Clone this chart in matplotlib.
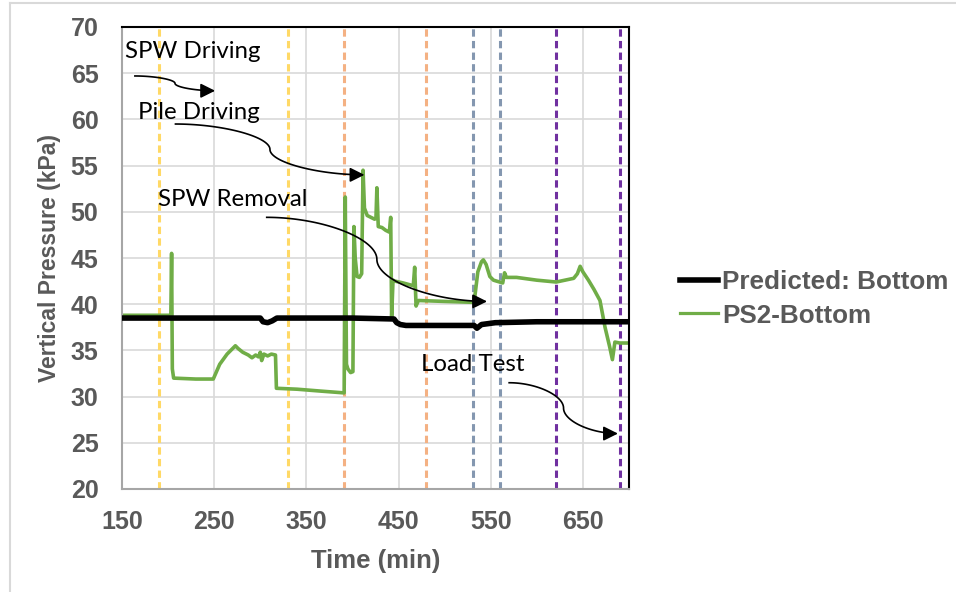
import numpy as np
import matplotlib.pyplot as plt
from matplotlib.lines import Line2D

# predicted vertical pressure (bottom)
pred_t = [150, 300, 303, 308, 313, 318, 330, 400, 445, 448, 452, 458, 500, 532, 535, 540, 555, 600, 650, 700]
pred_p = [38.5, 38.5, 38.1, 38.0, 38.2, 38.5, 38.5, 38.5, 38.4, 38.0, 37.8, 37.7, 37.7, 37.7, 37.4, 37.8, 38.0, 38.1, 38.1, 38.1]

# measured PS2-Bottom
ps2_t = [150, 203, 203.8, 204.6, 206, 230, 249, 256, 264, 273, 276, 281, 287, 291, 295, 298,
         300, 301.5, 304, 308, 312, 316.5, 317.5, 340, 365, 391, 392.2, 393.5, 395, 398, 400.5,
         401.6, 403, 405, 407.5, 410, 411.5, 413, 416, 420, 424, 425.5, 426.5, 428, 432, 436,
         440, 441.5, 442.5, 444, 446, 455, 466, 467.5, 469, 471.5, 500, 532, 536, 540, 542,
         545, 549, 553, 563, 565, 567, 578, 600, 621, 640, 644, 647, 650, 656, 662, 668.5, 674,
         679, 682, 684.7, 690, 700]
ps2_p = [38.8, 38.8, 45.5, 33.0, 32.0, 31.9, 31.9, 33.5, 34.6, 35.5, 35.2, 34.8, 34.5, 34.2, 34.5, 34.3,
         34.8, 33.9, 34.6, 34.4, 34.6, 34.5, 30.9, 30.8, 30.6, 30.4, 51.6, 33.5, 33.0, 32.6, 32.7,
         48.4, 45.0, 43.0, 42.9, 43.3, 54.5, 50.4, 49.6, 49.4, 49.2, 49.3, 52.6, 48.4, 48.3, 48.0,
         47.8, 49.4, 38.6, 42.6, 42.5, 42.3, 42.0, 44.0, 39.8, 40.4, 40.3, 40.2, 43.5, 44.6, 44.8,
         44.3, 43.0, 42.6, 42.3, 43.4, 42.9, 42.9, 42.6, 42.4, 42.8, 43.3, 44.1, 43.5, 42.6, 41.6, 40.4, 37.5,
         35.4, 34.0, 35.9, 35.8, 35.8]

# stage boundary markers (min)
stage_times = [190, 330, 391, 480, 531, 560, 621, 690]
stage_colors = ["#FFD966", "#FFD966", "#F4B183", "#F4B183", "#8497B0", "#8497B0", "#7030A0", "#7030A0"]

# stage labels: text position, arrow start, arrow end
notes = [
    ("SPW Driving", (153, 67.4), (164, 64.7), (251, 63.1)),
    ("Pile Driving", (167, 60.8), (208, 59.5), (413, 54.0)),
    ("SPW Removal", (189, 51.3), (307, 49.4), (546, 40.3)),
    ("Load Test", (474, 33.5), (570, 31.5), (688, 26.0)),
]

fig = plt.figure(figsize=(9.56, 5.92), dpi=100)
ax = fig.add_axes([122 / 956, 1 - 489 / 592, 507 / 956, 462 / 592])

grey = "#595959"
ax.set_xlim(150, 700)
ax.set_ylim(20, 70)
ax.set_xticks(np.arange(150, 700, 100))
ax.set_yticks(np.arange(20, 71, 5))
ax.grid(True, color="#D9D9D9", lw=1.2)
ax.set_axisbelow(True)
ax.tick_params(length=0, labelsize=18, labelcolor=grey)
ax.tick_params(axis="x", pad=15)
ax.tick_params(axis="y", pad=17)
for lab in ax.get_xticklabels() + ax.get_yticklabels():
    lab.set_fontweight("bold")
    lab.set_fontfamily("Liberation Sans")
for s in ["left", "bottom"]:
    ax.spines[s].set_color("#A6A6A6")
    ax.spines[s].set_linewidth(1.5)
for s in ["top", "right"]:
    ax.spines[s].set_color("black")
    ax.spines[s].set_linewidth(1.5)

ax.set_xlabel("Time (min)", fontsize=18.5, fontweight="bold", color=grey,
              family="Liberation Sans", labelpad=11)
ax.set_ylabel("Vertical Pressure (kPa)", fontsize=16.5, fontweight="bold", color=grey,
              family="Liberation Sans", labelpad=7)

for t, c in zip(stage_times, stage_colors):
    ax.axvline(t, color=c, lw=2.2, ls=(0, (2.4, 1.4)), zorder=1.5)

ax.plot(pred_t, pred_p, color="black", lw=4, zorder=3, label="Predicted: Bottom")
ax.plot(ps2_t, ps2_p, color="#70AD47", lw=2.6, zorder=2.5, label="PS2-Bottom")


def connector(p0, p1, n=60):
    # two cubic segments: horizontal start, vertical middle, horizontal end
    x0, y0 = p0
    x1, y1 = p1
    xm = (x0 + x1) / 2
    seg1 = [(x0, y0), ((x0 + xm) / 2, y0), (xm, y0 + (y1 - y0) / 4), (xm, (y0 + y1) / 2)]
    seg2 = [(xm, (y0 + y1) / 2), (xm, y0 + 3 * (y1 - y0) / 4), ((xm + x1) / 2, y1), (x1, y1)]
    s = np.linspace(0, 1, n)[:, None]
    out = []
    for P in (seg1, seg2):
        P = np.array(P)
        out.append((1 - s) ** 3 * P[0] + 3 * (1 - s) ** 2 * s * P[1] + 3 * (1 - s) * s ** 2 * P[2] + s ** 3 * P[3])
    return np.vstack(out)


for text, tpos, a0, a1 in notes:
    ax.text(tpos[0], tpos[1], text, fontsize=17.3, family="Lato", va="center", ha="left", zorder=5)
    pts = connector(a0, a1)
    ax.plot(pts[:-3, 0], pts[:-3, 1], color="black", lw=1.2, zorder=5)
    ax.annotate("", xy=a1, xytext=(a1[0] - 12, a1[1]),
                arrowprops=dict(arrowstyle="-|>", color="black", lw=1.2, mutation_scale=22,
                                shrinkA=0, shrinkB=0), zorder=5)

h = [Line2D([], [], color="black", lw=4), Line2D([], [], color="#70AD47", lw=2.3)]
leg = fig.legend(h, ["Predicted: Bottom", "PS2-Bottom"], loc="center left",
                 bbox_to_anchor=(680 / 956, 1 - 299 / 592), frameon=False,
                 borderpad=0, borderaxespad=0,
                 handlelength=1.45, handletextpad=0.15, labelspacing=0.35,
                 prop={"family": "Liberation Sans", "weight": "bold", "size": 18.8})
for t in leg.get_texts():
    t.set_color(grey)

# chart area outline
fig.add_artist(Line2D([10 / 956, 10 / 956], [0, 1 - 3 / 592], color="#D9D9D9", lw=1.5))
fig.add_artist(Line2D([10 / 956, 1], [1 - 3 / 592, 1 - 3 / 592], color="#D9D9D9", lw=1.5))

fig.savefig("out.png", dpi=100)
